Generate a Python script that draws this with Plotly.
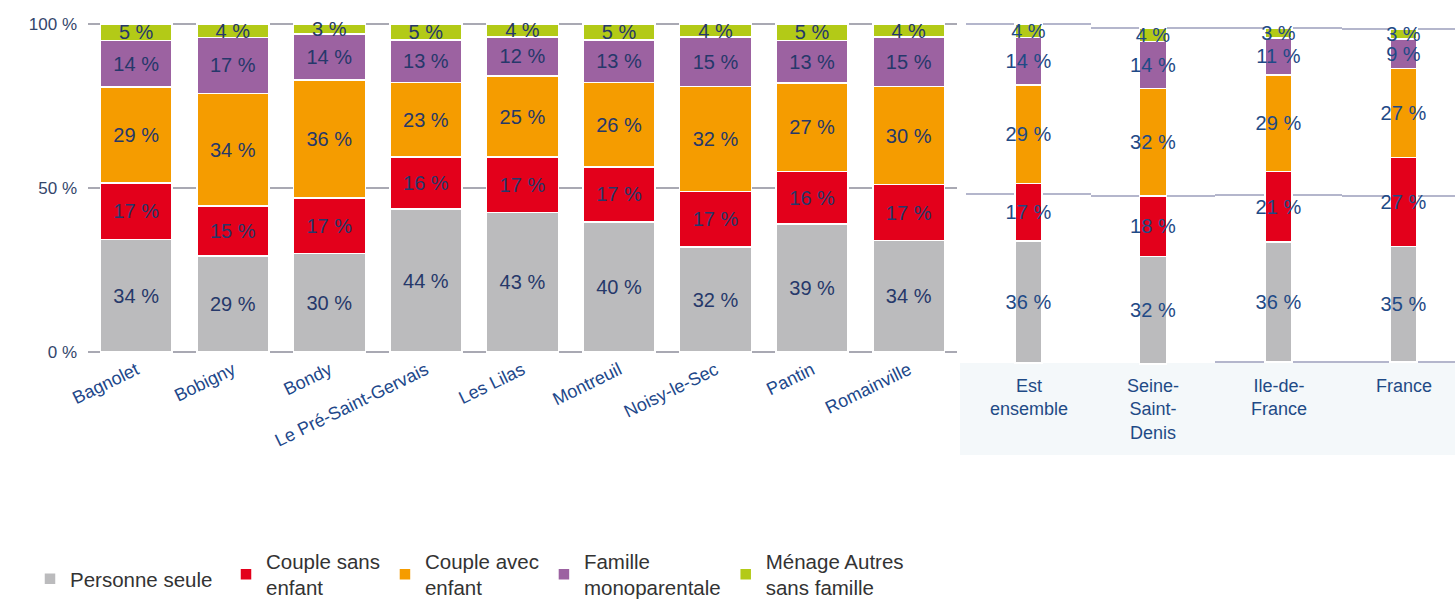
import plotly.graph_objects as go

W, H = 1455, 602

communes = ["Bagnolet", "Bobigny", "Bondy", "Le Pré-Saint-Gervais", "Les Lilas",
            "Montreuil", "Noisy-le-Sec", "Pantin", "Romainville"]
personne_seule = [34, 29, 30, 44, 43, 40, 32, 39, 34]
couple_sans_enfant = [17, 15, 17, 16, 17, 17, 17, 16, 17]
couple_avec_enfant = [29, 34, 36, 23, 25, 26, 32, 27, 30]
famille_mono = [14, 17, 14, 13, 12, 13, 15, 13, 15]
menage_autres = [5, 4, 3, 5, 4, 5, 4, 5, 4]

territoires = ["Est ensemble", "Seine-Saint-Denis", "Ile-de-France", "France"]
territoire_labels = ["Est<br>ensemble", "Seine-<br>Saint-<br>Denis", "Ile-de-<br>France", "France"]
ter_personne_seule = [36, 32, 36, 35]
ter_couple_sans_enfant = [17, 18, 21, 27]
ter_couple_avec_enfant = [29, 32, 29, 27]
ter_famille_mono = [14, 14, 11, 9]
ter_menage_autres = [4, 4, 3, 3]

series_names = ["Personne seule", "Couple sans<br>enfant", "Couple avec<br>enfant",
                "Famille<br>monoparentale", "Ménage Autres<br>sans famille"]
colors = ["#bbbbbd", "#e3001b", "#f59c00", "#9c62a1", "#b3ca17"]
left_series = [personne_seule, couple_sans_enfant, couple_avec_enfant, famille_mono, menage_autres]
right_series = [ter_personne_seule, ter_couple_sans_enfant, ter_couple_avec_enfant,
                ter_famille_mono, ter_menage_autres]

FONT = "Liberation Sans, Arial, sans-serif"
LEFT_TXT = "#26386a"
RIGHT_TXT = "#1f4a86"
PAD = 1.0  # range padding (%) so that 0 and 100 gridlines are drawn


def px(p):
    return p / W


def py(p):
    return 1 - p / H


def ydomain(top_px, bottom_px):
    unit = (bottom_px - top_px) / 100.0
    return [py(bottom_px + PAD * unit), py(top_px - PAD * unit)]


fig = go.Figure()

for k, (name, col, vals) in enumerate(zip(series_names, colors, left_series)):
    fig.add_trace(go.Bar(
        x=communes, y=vals, name=name, width=0.745,
        marker=dict(color=col, line=dict(color="white", width=1.5)),
        text=[f"{v} %" for v in vals], textposition="inside",
        insidetextanchor="middle", textangle=0,
        textfont=dict(family=FONT, size=20, color=LEFT_TXT),
        xaxis="x", yaxis="y", showlegend=True,
        legend="legend2" if k == 0 else "legend",
    ))

# right panels: (x domain px, y top px, y bottom px, x range, show zero line)
panels = [
    ((966, 1091), 24, 363, [-0.5, 0.5], False),
    ((1091, 1215), 28, 364, [-0.5, 0.5], False),
    ((1215, 1342), 28, 362, [-0.5, 0.5], True),
    ((1342, 1455), 29, 362, [-0.496, 0.415], True),
]

for i, terr in enumerate(territoires):
    ax = i + 2
    for name, col, vals in zip(series_names, colors, right_series):
        fig.add_trace(go.Bar(
            x=[terr], y=[vals[i]], name=name, width=0.215,
            marker=dict(color=col, line=dict(color="white", width=1.5)),
            text=[f"{vals[i]} %"], textposition="inside",
            insidetextanchor="middle", textangle=0,
            textfont=dict(family=FONT, size=20, color=RIGHT_TXT),
            xaxis=f"x{ax}", yaxis=f"y{ax}", showlegend=False,
        ))

legend_common = dict(orientation="h", xanchor="left", yanchor="top",
                     font=dict(family=FONT, size=20.5, color="#333333"),
                     itemwidth=30, tracegroupgap=0, traceorder="normal",
                     bgcolor="rgba(0,0,0,0)")

layout = dict(
    width=W, height=H,
    margin=dict(l=0, r=0, t=0, b=0, autoexpand=False),
    paper_bgcolor="white", plot_bgcolor="rgba(0,0,0,0)",
    barmode="stack", barnorm="percent",
    uniformtext=dict(minsize=20, mode="show"),
    font=dict(family=FONT, size=16, color="#333333"),
    xaxis=dict(domain=[px(88), px(957)], tickangle=-26, showgrid=False,
               tickfont=dict(family=FONT, size=18, color="#21478a"),
               ticks="", showline=False, zeroline=False, automargin=False),
    yaxis=dict(domain=ydomain(24, 352), range=[-PAD, 100 + PAD], tickvals=[0, 50, 100],
               ticktext=["0 %", "50 %", "100 %"], showgrid=True,
               gridcolor="#a9a9b3", gridwidth=1.5, zeroline=False,
               tickfont=dict(family=FONT, size=17, color="#34466b"),
               ticks="", ticklabelstandoff=10, automargin=False),
    legend=dict(x=px(226), y=py(541), **legend_common),
    legend2=dict(x=px(30), y=py(559), **legend_common),
    shapes=[dict(type="rect", xref="paper", yref="paper",
                 x0=px(960), x1=1, y0=py(455), y1=py(363),
                 fillcolor="#f4f8fa", line=dict(width=0), layer="below")],
    annotations=[],
)

for i, (dom, ytop, ybot, xr, zero) in enumerate(panels):
    ax = i + 2
    layout[f"xaxis{ax}"] = dict(domain=[px(dom[0]), px(dom[1])], range=xr,
                                showticklabels=False, showgrid=False, zeroline=False,
                                ticks="", anchor=f"y{ax}", automargin=False)
    layout[f"yaxis{ax}"] = dict(domain=ydomain(ytop, ybot), range=[-PAD, 100 + PAD],
                                tickvals=[0, 50, 100] if zero else [50, 100],
                                showticklabels=False, showgrid=True,
                                gridcolor="#b4b6cc", gridwidth=2, zeroline=False,
                                ticks="", anchor=f"x{ax}", automargin=False)
    layout["annotations"].append(dict(
        x=territoires[i], y=py(374), xref=f"x{ax}", yref="paper",
        text=territoire_labels[i], showarrow=False, yanchor="top",
        font=dict(family=FONT, size=18, color=RIGHT_TXT), align="center"))

fig.update_layout(**layout)
fig.write_html("out.html", config={"displayModeBar": False},
               post_script="document.body.style.margin='0';document.body.style.overflow='hidden';")
